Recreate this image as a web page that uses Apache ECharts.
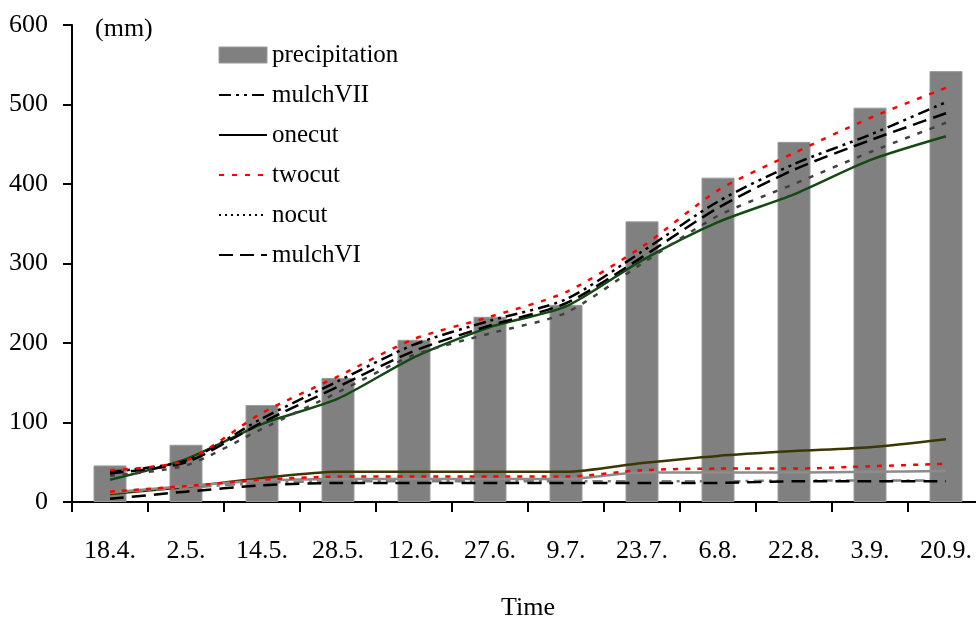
<!DOCTYPE html>
<html><head><meta charset="utf-8">
<script src="https://cdn.jsdelivr.net/npm/echarts@6/dist/echarts.min.js"></script>
<style>html,body{margin:0;padding:0;background:#fff}#c{width:976px;height:619px}</style>
</head><body><div id="c"></div>
<script>
const categories = ['18.4.','2.5.','14.5.','28.5.','12.6.','27.6.','9.7.','23.7.','6.8.','22.8.','3.9.','20.9.'];
const yTicks = [0,100,200,300,400,500,600];
const precipitation = [46,72,122,156,204,233,248,353,408,453,496,542];
// upper group
const mulchVII = [38,52,105,152,198,228,255,315,378,425,462,503];
const onecut   = [28,54,98,130,182,220,246,304,352,387,430,460];
const twocut   = [40,52,112,158,205,233,264,321,392,439,483,521];
const nocut    = [33,46,92,138,185,212,238,300,360,400,440,477];
const mulchVI  = [36,50,100,145,190,222,250,308,370,418,455,489];
// lower group
const onecutLow   = [10,19,30,38,38,38,38,49,58,64,69,79];
const twocutLow   = [13,20,28,32,32,32,32,40,42,42,45,48];
const greyLow     = [12,20,27,29,29,29,29,37,37,37,38,39];
const mulchVIILow = [12,18,24,26,26,26,26,26,26,27,27,27];
const mulchVILow  = [4,13,21,24,24,24,24,24,24,26,26,26];

const FONT = 'Liberation Serif';
const chart = echarts.init(document.getElementById('c'));
function ln(name, data, color, type, width, z){
  return {name, type:'line', data, symbol:'none', smooth:0.25, z:z||3,
    lineStyle:{color, type, width:width||2.2}, itemStyle:{color}};
}
chart.setOption({
  animation:false,
  grid:{left:72, top:25, width:912, height:477, containLabel:false, outerBoundsMode:'none'},
  legend:{
    orient:'vertical', left:213, top:37, itemWidth:48, itemHeight:16, itemGap:14,
    itemStyle:{opacity:0},
    textStyle:{fontFamily:FONT, fontSize:25, color:'#000', lineHeight:26},
    data:[
      {name:'precipitation', icon:'rect', itemStyle:{opacity:1, color:'#808080', borderColor:'#9a9a9a', borderWidth:1}},
      {name:'mulchVII'},
      {name:'onecut', lineStyle:{color:'#000'}},
      {name:'twocut'},
      {name:'nocut', lineStyle:{color:'#000', type:[2,4]}},
      {name:'mulchVI'}
    ]
  },
  xAxis:{
    type:'category', data:categories, boundaryGap:true,
    name:'Time', nameLocation:'middle', nameGap:93,
    nameTextStyle:{fontFamily:FONT, fontSize:26, color:'#000'},
    axisLine:{lineStyle:{color:'#000', width:2}},
    axisTick:{show:true, length:10, alignWithLabel:false, lineStyle:{color:'#000', width:2}},
    axisLabel:{fontFamily:FONT, fontSize:26, color:'#000', margin:36}
  },
  yAxis:{
    type:'value', min:0, max:600, interval:100,
    axisLine:{show:true, lineStyle:{color:'#000', width:2}},
    axisTick:{show:true, length:9, lineStyle:{color:'#000', width:2}},
    axisLabel:{fontFamily:FONT, fontSize:26, color:'#000', margin:24},
    splitLine:{show:false}
  },
  graphic:[{type:'text', left:95, top:16, style:{text:'(mm)', font:'26px "Liberation Serif"', fill:'#000'}}],
  series:[
    {name:'precipitation', type:'bar', data:precipitation, barWidth:33, z:1,
      itemStyle:{color:'#808080', borderColor:'#9a9a9a', borderWidth:1}},
    ln('onecutLow', onecutLow, '#3a3800', 'solid', 2.5),
    ln('greyLow', greyLow, '#8c8c8c', 'solid', 2.5),
    ln('twocutLow', twocutLow, '#ff0000', [5,7], 2.5, 4),
    ln('mulchVIILow', mulchVIILow, '#808080', [10,5,3,5], 2.5),
    ln('mulchVILow', mulchVILow, '#000', [14,8], 2.5),
    ln('onecut', onecut, '#134a13', 'solid', 2.5),
    ln('nocut', nocut, '#404040', [5,8], 2.5),
    ln('mulchVI', mulchVI, '#000', [14,7], 2.5),
    ln('mulchVII', mulchVII, '#000', [12,5,3,5,3,5], 2.5),
    ln('twocut', twocut, '#ff0000', [5,8], 2.5, 4)
  ]
});
</script></body></html>
